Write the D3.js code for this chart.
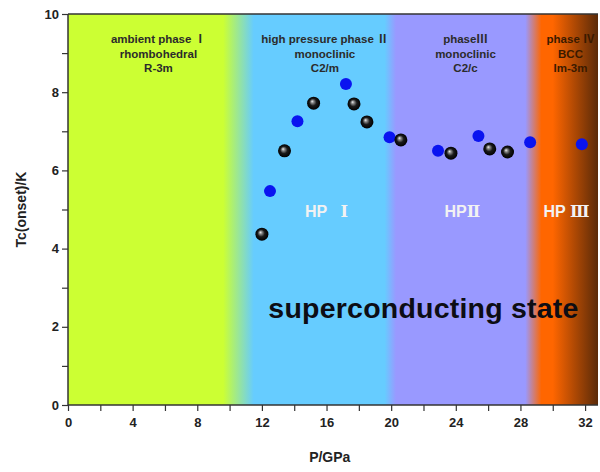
<!DOCTYPE html>
<html>
<head>
<meta charset="utf-8">
<script src="https://cdn.jsdelivr.net/npm/d3@7"></script>
<style>
  body { margin: 0; background: #fff; }
  svg text { font-family: "Liberation Sans", Arial, "Noto Sans CJK SC", sans-serif; font-weight: bold; }
</style>
</head>
<body>
<div class="chart"></div>
<script>
// black spheres (P in GPa, Tc in K)
const blackP = [12.0, 13.4, 15.2, 17.7, 18.5, 20.6, 23.7, 26.1, 27.2];
const blackTc = [4.37, 6.5, 7.72, 7.7, 7.24, 6.78, 6.44, 6.55, 6.47];
// blue points
const blueP = [12.5, 14.2, 17.2, 19.9, 22.9, 25.4, 28.6, 31.8];
const blueTc = [5.47, 7.26, 8.21, 6.85, 6.5, 6.88, 6.72, 6.67];

const xTicks = [0, 4, 8, 12, 16, 20, 24, 28, 32];
const yTicks = [0, 2, 4, 6, 8, 10];

// phase background colour stops along pressure
const bgP = [0, 9.6, 11.5, 19.6, 20.3, 28.3, 29.3, 30.0, 32.8];
const bgColor = ["#ccff33", "#ccff33", "#66ccff", "#66ccff", "#9999ff", "#9999ff", "#ff6600", "#ff6600", "#5a2a08"];

const phaseP = [5.6, 15.9, 24.6, 31.1];
const phaseLines = [
  ["ambient phase Ⅰ", "rhombohedral", "R-3m"],
  ["high pressure phase Ⅱ", "monoclinic", "C2/m"],
  ["phaseⅢ", "monoclinic", "C2/c"],
  ["phase Ⅳ", "BCC", "Im-3m"]
];
const hpP = [16.0, 24.4, 30.85];
const hpNum = ["Ⅰ", "Ⅱ", "Ⅲ"];
const hpGap = ["\u00a0\u00a0\u00a0", "", "\u00a0"];

const margin = { top: 14, right: 2, bottom: 67, left: 68 },
    width = 600 - margin.left - margin.right,
    height = 472 - margin.top - margin.bottom;

const svg = d3.select(".chart")
    .append("svg")
    .attr("width", 600)
    .attr("height", 472);

const g = svg.append("g")
    .attr("transform", `translate(${margin.left},${margin.top})`);

const x = d3.scaleLinear().domain([0, 32.8]).range([0, width]);
const y = d3.scaleLinear().domain([0, 10]).range([height, 0]);

const defs = svg.append("defs");

// background gradient
const bg = defs.append("linearGradient")
    .attr("id", "bg")
    .attr("gradientUnits", "userSpaceOnUse")
    .attr("x1", x(0)).attr("x2", x(32.8))
    .attr("y1", 0).attr("y2", 0);
bgP.forEach((p, i) => {
    bg.append("stop").attr("offset", p / 32.8).attr("stop-color", bgColor[i]);
});

// shiny black ball
const ball = defs.append("radialGradient")
    .attr("id", "ball")
    .attr("cx", "50%").attr("cy", "50%").attr("r", "50%")
    .attr("fx", "38%").attr("fy", "35%");
ball.append("stop").attr("offset", "0").attr("stop-color", "#f4f4f4");
ball.append("stop").attr("offset", "0.22").attr("stop-color", "#8a8a8a");
ball.append("stop").attr("offset", "0.55").attr("stop-color", "#1a1a1a");
ball.append("stop").attr("offset", "1").attr("stop-color", "#000");

g.append("rect")
    .attr("x", 0).attr("y", 0)
    .attr("width", width).attr("height", height)
    .attr("fill", "url(#bg)");

// phase labels
phaseLines.forEach((lines, i) => {
    const t = g.append("text")
        .attr("x", x(phaseP[i]))
        .attr("y", 29)
        .attr("text-anchor", "middle")
        .style("font-size", "11.5px")
        .style("fill", i === 3 ? "#3a1a00" : "#2b2b2b");
    lines.forEach((l, j) => {
        t.append("tspan").attr("x", x(phaseP[i])).attr("dy", j === 0 ? 0 : 14.5).text(l);
    });
});

// HP labels
hpNum.forEach((n, i) => {
    const t = g.append("text")
        .attr("x", x(hpP[i]))
        .attr("y", 203)
        .attr("text-anchor", "middle")
        .style("font-size", "16px")
        .style("fill", "#f2f2f2");
    t.append("tspan").text("HP" + hpGap[i]);
    t.append("tspan").style("font-family", "'Liberation Serif', 'DejaVu Serif', serif").text(n);
});

g.append("text")
    .attr("x", x(12.4))
    .attr("y", 304)
    .attr("textLength", 310)
    .style("font-size", "28.5px")
    .style("fill", "#0d0d14")
    .text("superconducting state");

// points
g.selectAll(".blue")
    .data(blueP)
    .enter().append("circle")
    .attr("class", "blue")
    .attr("cx", d => x(d))
    .attr("cy", (d, i) => y(blueTc[i]))
    .attr("r", 6)
    .attr("fill", "#0a14f0");

g.selectAll(".black")
    .data(blackP)
    .enter().append("circle")
    .attr("class", "black")
    .attr("cx", d => x(d))
    .attr("cy", (d, i) => y(blackTc[i]))
    .attr("r", 6.5)
    .attr("fill", "url(#ball)");

// axes
const xAxis = g.append("g")
    .attr("transform", `translate(0,${height})`)
    .call(d3.axisBottom(x).tickValues(d3.range(0, 33, 2)).tickSize(6).tickFormat(d => xTicks.includes(d) ? d : ""));
const yAxis = g.append("g")
    .call(d3.axisLeft(y).tickValues(d3.range(0, 11, 1)).tickSize(6).tickFormat(d => yTicks.includes(d) ? d : ""));

[xAxis, yAxis].forEach(a => {
    a.selectAll("path").attr("stroke", "#333").attr("stroke-width", 1.5);
    a.selectAll("line").attr("stroke", "#333").attr("stroke-width", 1.2);
    a.selectAll("text").style("font-size", "13px").style("fill", "#222")
        .style("font-family", "'Liberation Sans', Arial, sans-serif").style("font-weight", "bold");
});
xAxis.selectAll("text").attr("dy", "1em");
xAxis.select(".domain").attr("d", `M0,0H${width}`);
yAxis.select(".domain").attr("d", `M0,${height}V0`);

// top border
g.append("line")
    .attr("x1", 0).attr("x2", width)
    .attr("y1", 0).attr("y2", 0)
    .attr("stroke", "#333").attr("stroke-width", 1.5);

// axis titles
svg.append("text")
    .attr("x", margin.left + x(16.2))
    .attr("y", 462)
    .attr("text-anchor", "middle")
    .style("font-size", "14px")
    .style("fill", "#222")
    .text("P/GPa");

svg.append("text")
    .attr("transform", `translate(26,${margin.top + y(5)}) rotate(-90)`)
    .attr("text-anchor", "middle")
    .style("font-size", "14px")
    .style("fill", "#222")
    .text("Tc(onset)/K");
</script>
</body>
</html>
